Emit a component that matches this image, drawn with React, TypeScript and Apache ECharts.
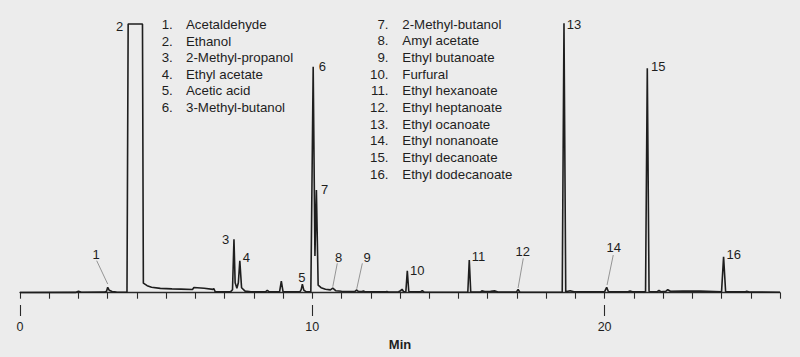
import React, { useEffect, useRef } from "react";
import * as echarts from "echarts";

// ---- Chromatogram trace (retention time in min, detector signal) ----
const traceTime = [
  0, 1.9, 2.0, 2.1, 2.9, 2.96, 3.0, 3.05, 3.15, 3.3, 3.66, 3.7, 4.19, 4.22, 4.35, 4.5, 4.8, 5.2, 5.5,
  5.9, 5.95, 6.3, 6.6, 6.63, 6.68, 7.2, 7.27, 7.32, 7.36, 7.42, 7.47, 7.52, 7.58, 7.7, 7.9, 8.4, 8.46,
  8.52, 8.88, 8.94, 9.0, 9.58, 9.62, 9.66, 9.71, 9.78, 9.95, 10.03, 10.09, 10.14, 10.2, 10.3, 10.45,
  10.62, 10.7, 10.8, 11.0, 11.45, 11.52, 11.58, 11.7, 11.75, 11.8, 12.5, 12.55, 12.6, 12.95, 13.02,
  13.07, 13.12, 13.2, 13.25, 13.3, 13.7, 13.76, 13.82, 15.32, 15.37, 15.42, 15.75, 15.8, 15.9, 16.1,
  16.25, 16.35, 16.98, 17.04, 17.1, 18.55, 18.61, 18.67, 18.82, 18.95, 19.5, 20.0, 20.07, 20.13, 20.8,
  20.87, 20.95, 21.4, 21.46, 21.52, 21.8, 21.86, 21.92, 22.1, 22.16, 22.25, 22.68, 23.26, 24.0, 24.07,
  24.14, 24.8, 24.86, 24.95, 26.0,
];
const traceSignal = [
  0.2, 0.3, 1.5, 0.4, 0.6, 1.5, 5.4, 2.5, 1.2, 0.6, 0.5, 268.7, 268.7, 9.5, 7.0, 5.5, 4.3, 3.8, 3.6,
  3.2, 5.2, 4.5, 3.3, 4.2, 0.8, 0.8, 3.0, 53.4, 10.0, 4.4, 10.0, 32.0, 5.0, 1.6, 0.8, 0.8, 2.5,
  0.8, 0.8, 11.5, 0.9, 1.0, 3.0, 8.5, 2.5, 1.0, 1.0, 226.0, 36.7, 102.7, 7.5, 5.0, 3.5,
  2.8, 4.5, 2.0, 1.5, 1.1, 2.7, 1.1, 1.1, 1.7, 1.0, 0.8, 1.3, 0.7, 1.0, 2.0,
  3.4, 1.2, 1.0, 22.0, 1.2, 0.8, 2.0, 0.7, 0.5, 32.7, 0.6, 0.6, 1.8, 1.2, 1.3,
  1.8, 0.6, 0.6, 3.2, 0.5, 0.5, 269.4, 1.0, 2.0, 1.0, 0.8, 1.0, 5.4, 1.0, 1.0,
  1.8, 1.0, 0.8, 224.4, 1.2, 1.0, 2.2, 1.0, 1.5, 3.0, 1.4, 1.6, 1.6, 1.0, 36.0,
  0.8, 0.8, 1.4, 0.6, 0.5,
];

// ---- Identified peaks ----
const peakNumbers = [1, 2, 3, 4, 5, 6, 7, 8, 9, 10, 11, 12, 13, 14, 15, 16];
const peakTimes = [3.0, 3.7, 7.32, 7.52, 9.66, 10.03, 10.14, 10.7, 11.52, 13.25, 15.37, 17.04, 18.61, 20.07, 21.46, 24.07];
const peakHeights = [5.4, 268.7, 53.4, 32.0, 8.5, 226.0, 102.7, 4.5, 2.7, 22.0, 32.7, 3.2, 269.4, 5.4, 224.4, 36.0];
const compounds = [
  "Acetaldehyde",
  "Ethanol",
  "2-Methyl-propanol",
  "Ethyl acetate",
  "Acetic acid",
  "3-Methyl-butanol",
  "2-Methyl-butanol",
  "Amyl acetate",
  "Ethyl butanoate",
  "Furfural",
  "Ethyl hexanoate",
  "Ethyl heptanoate",
  "Ethyl ocanoate",
  "Ethyl nonanoate",
  "Ethyl decanoate",
  "Ethyl dodecanoate",
];

// ---- Axis ----
const tickLabels = [0, 10, 20];
const xMin = 0;
const xMax = 26;
const axisTitle = "Min";

// ---- Label placement (pixel offsets from each peak apex) ----
type LabelLayout = { dx: number; dy: number; align: string; leader?: [number, number, number, number] };
const labelLayout: Record<number, LabelLayout> = {
  1: { dx: -11.7, dy: -33, align: "center", leader: [-11, -26.6, 0, -3.3] },
  2: { dx: -5, dy: 2, align: "right" },
  3: { dx: -4.7, dy: 0, align: "right" },
  4: { dx: 3, dy: -3.4, align: "left" },
  5: { dx: -0.4, dy: -7, align: "center" },
  6: { dx: 5.5, dy: 0, align: "left" },
  7: { dx: 4.6, dy: -1, align: "left" },
  8: { dx: 5.9, dy: -30.9, align: "center", leader: [4.5, -24.9, 0, -1.5] },
  9: { dx: 10.3, dy: -32.7, align: "center", leader: [5.6, -26.7, 0, -1.2] },
  10: { dx: 2.7, dy: -0.7, align: "left" },
  11: { dx: 2.4, dy: -3.3, align: "left" },
  12: { dx: 4.7, dy: -38.2, align: "center", leader: [5.2, -31.2, 0, -1.5] },
  13: { dx: 2.7, dy: 1, align: "left" },
  14: { dx: 7, dy: -40, align: "center", leader: [6.6, -32.3, 0.4, -2.3] },
  15: { dx: 3.7, dy: -1.6, align: "left" },
  16: { dx: 3, dy: -2.4, align: "left" },
};

const FONT = '"Liberation Sans", Arial, sans-serif';
const INK = "#1e1e1e";
const BG = "#ececec";

export default function App() {
  const ref = useRef<HTMLDivElement>(null);

  useEffect(() => {
    if (!ref.current) return;
    const chart = echarts.init(ref.current, undefined, { renderer: "svg" });

    const legendTexts: any[] = [];
    compounds.forEach((name, i) => {
      const n = i + 1;
      if (i < 6) {
        const y = 24.5 + i * 16.6;
        legendTexts.push({
          type: "text", x: 161.7, y,
          style: { text: n + ".", fill: INK, fontSize: 13.3, fontFamily: FONT, align: "left", textAlign: "left", verticalAlign: "middle", textVerticalAlign: "middle" },
        });
        legendTexts.push({
          type: "text", x: 186, y,
          style: { text: name, fill: INK, fontSize: 13.3, fontFamily: FONT, align: "left", textAlign: "left", verticalAlign: "middle", textVerticalAlign: "middle" },
        });
      } else {
        const r = i - 6;
        const y = 24.3 + r * 16.67;
        legendTexts.push({
          type: "text", x: 388.5, y,
          style: { text: n + ".", fill: INK, fontSize: 13.3, fontFamily: FONT, align: "right", textAlign: "right", verticalAlign: "middle", textVerticalAlign: "middle" },
        });
        legendTexts.push({
          type: "text", x: 402.3, y,
          style: { text: name, fill: INK, fontSize: 13.3, fontFamily: FONT, align: "left", textAlign: "left", verticalAlign: "middle", textVerticalAlign: "middle" },
        });
      }
    });

    const axisStyle = { color: "#2a2a2a", width: 1.3 };

    chart.setOption({
      animation: false,
      backgroundColor: BG,
      textStyle: { fontFamily: FONT },
      grid: { left: 20, right: 20, top: 12.7, bottom: 52 },
      xAxis: [
        {
          type: "value", min: xMin, max: xMax, interval: 1, position: "bottom",
          axisLine: { show: true, lineStyle: axisStyle },
          axisTick: { show: true, length: 6, lineStyle: { color: "#2a2a2a", width: 1.1 } },
          axisLabel: { show: false },
          splitLine: { show: false },
        },
        {
          type: "value", min: xMin, max: xMax, interval: 10, position: "bottom",
          axisLine: { show: false },
          axisTick: { show: true, length: 11, customValues: tickLabels, lineStyle: { color: "#2a2a2a", width: 1.1 } },
          axisLabel: { show: true, customValues: tickLabels, margin: 15.5, fontSize: 12.5, color: INK, fontFamily: FONT },
          splitLine: { show: false },
          name: axisTitle, nameLocation: "middle", nameGap: 32,
          nameTextStyle: { fontSize: 13, fontWeight: "bold", color: INK, fontFamily: FONT },
        },
      ],
      yAxis: { type: "value", min: -12.3, max: 280, show: false, splitLine: { show: false } },
      graphic: legendTexts,
      series: [
        {
          type: "line",
          xAxisIndex: 0,
          data: traceTime.map((t, i) => [t, traceSignal[i]]),
          showSymbol: false,
          symbol: "none",
          itemStyle: { color: INK },
          lineStyle: { color: INK, width: 1.6 },
          clip: false,
          z: 3,
        },
        {
          type: "custom",
          xAxisIndex: 0,
          itemStyle: { color: INK },
          data: peakNumbers.map((n, i) => [peakTimes[i], peakHeights[i], n]),
          encode: { x: 0, y: 1 },
          z: 5,
          renderItem: (params: any, api: any) => {
            const n = api.value(2);
            const p = api.coord([api.value(0), api.value(1)]);
            const L = labelLayout[n];
            const children: any[] = [
              {
                type: "text",
                x: p[0] + L.dx,
                y: p[1] + L.dy,
                style: {
                  text: String(n), fill: INK, fontSize: 13, fontFamily: FONT,
                  align: L.align, textAlign: L.align, verticalAlign: "middle", textVerticalAlign: "middle",
                },
              },
            ];
            if (L.leader) {
              children.push({
                type: "line",
                shape: { x1: p[0] + L.leader[0], y1: p[1] + L.leader[1], x2: p[0] + L.leader[2], y2: p[1] + L.leader[3] },
                style: { stroke: "#8a8a8a", lineWidth: 0.9 },
              });
            }
            return { type: "group", children };
          },
        },
      ],
    });

    return () => chart.dispose();
  }, []);

  return (
    <div
      ref={ref}
      style={{ position: "fixed", left: 0, top: 0, width: 800, height: 357, background: BG }}
    />
  );
}
